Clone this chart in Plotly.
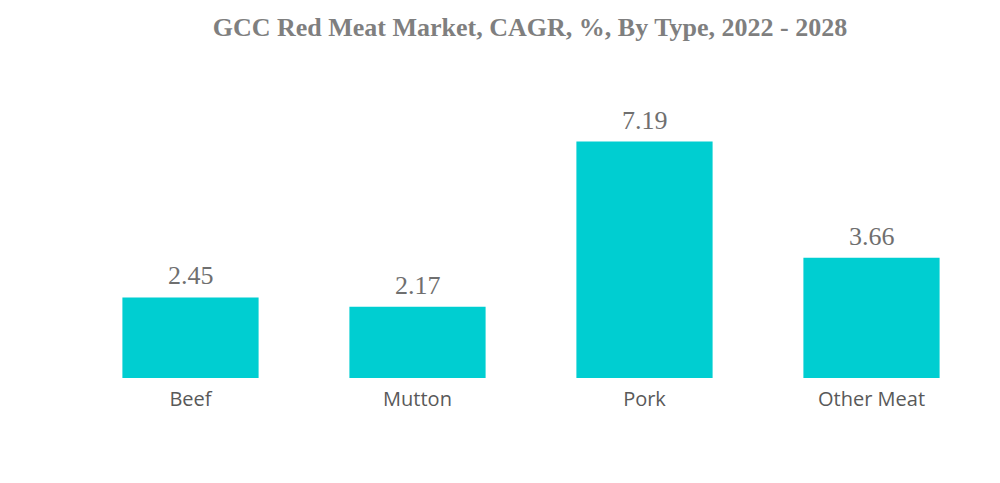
import plotly.graph_objects as go

categories = ["Beef", "Mutton", "Pork", "Other Meat"]
values = [2.45, 2.17, 7.19, 3.66]
value_labels = ["2.45", "2.17", "7.19", "3.66"]

fig = go.Figure(go.Bar(
    x=categories, y=values,
    marker=dict(color="#00CED1", line=dict(width=0)),
))

for c, v, t in zip(categories, values, value_labels):
    fig.add_annotation(
        x=c, y=v, text=t, showarrow=False, yanchor="bottom", yshift=5,
        font=dict(family="Liberation Serif", size=26, color="#6f6f6f"),
    )

fig.update_layout(
    width=1000, height=483,
    margin=dict(l=68.5, r=22.5, t=73.5, b=113),
    paper_bgcolor="white", plot_bgcolor="white",
    bargap=0.4,
    showlegend=False,
    title=dict(
        text="<b>GCC Red Meat Market, CAGR, %, By Type, 2022 - 2028</b>",
        font=dict(family="Liberation Serif", size=26, color="#7f7f7f"),
        x=0.522, xanchor="center", y=0.96, yanchor="middle",
    ),
    xaxis=dict(showgrid=False, showline=False, zeroline=False, ticks="",
               ticklabelstandoff=7,
               tickfont=dict(family="Open Sans", size=20, color="#595959")),
    yaxis=dict(range=[0, 9], visible=False),
)

fig.write_html("out.html")
